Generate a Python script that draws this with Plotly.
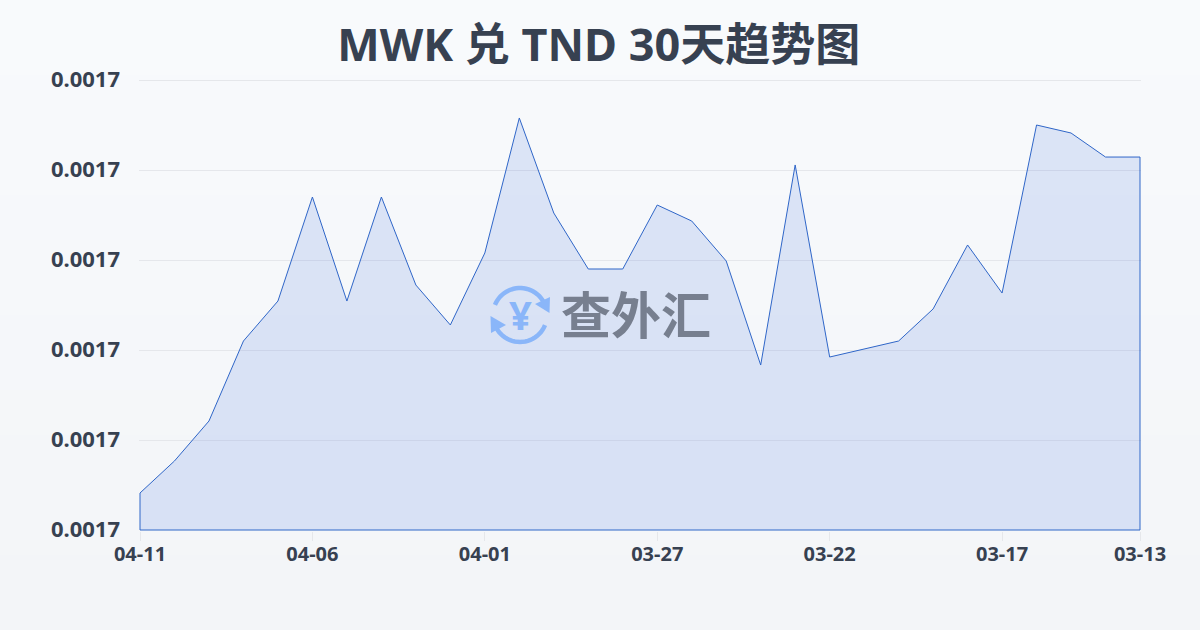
import math
import plotly.graph_objects as go

dates = ["04-11","04-10","04-09","04-08","04-07","04-06","04-05","04-04","04-03","04-02",
         "04-01","03-31","03-30","03-29","03-28","03-27","03-26","03-25","03-24","03-23",
         "03-22","03-21","03-20","03-19","03-18","03-17","03-16","03-15","03-14","03-13"]
rates = [0.00168411,0.00168767,0.00169211,0.00170100,0.00170544,0.00171700,0.00170544,0.00171700,0.00170722,0.00170278,
         0.00171078,0.00172578,0.00171522,0.00170900,0.00170900,0.00171611,0.00171433,0.00170989,0.00169833,0.00172056,
         0.00169922,0.00170011,0.00170100,0.00170456,0.00171167,0.00170633,0.00172500,0.00172411,0.00172144,0.00172144]
x_ticks = ["04-11","04-06","04-01","03-27","03-22","03-17","03-13"]
y_ticks = [0.00168,0.00169,0.00170,0.00171,0.00172,0.00173]
y_base = 0.00168
y_top = 0.00173
title = "MWK 兑 TND 30天趋势图"
logo_text = "查外汇"

W, H = 1200, 630
ML, MR, MT, MB = 139, 59, 70, 99
PW, PH = W - ML - MR, H - MT - MB
FONT = "Noto Sans, Noto Sans CJK SC, sans-serif"
INK = "#374151"
Y_PER_PX = (y_top - y_base) / 450
X_PAD = 1 / 34.483

def px(x): return (x - ML) / PW
def py(y): return (H - MB - y) / PH

# page background gradient, top to bottom
shapes = []
c0, c1 = (248, 250, 252), (243, 245, 248)
bands = 42
for i in range(bands):
    t = i / (bands - 1)
    col = "rgb(%d,%d,%d)" % tuple(round(a + (b - a) * t) for a, b in zip(c0, c1))
    shapes.append(dict(type="rect", xref="paper", yref="paper", layer="below",
                       x0=px(0), x1=px(W), y0=py(H * i / bands), y1=py(H * (i + 1) / bands),
                       fillcolor=col, line_width=0))

# logo icon arcs and arrow heads
def arc(cx, cy, r, a0, a1, n=24):
    pts = []
    for k in range(n + 1):
        a = math.radians(a0 + (a1 - a0) * k / n)
        pts.append((cx + r * math.cos(a), cy + r * math.sin(a)))
    return "M" + " L".join(f"{px(p[0]):.5f},{py(p[1]):.5f}" for p in pts)

def poly(pts):
    return "M" + " L".join(f"{px(p[0]):.5f},{py(p[1]):.5f}" for p in pts) + " Z"

BLUE = "#8ab6f9"
cx, cy, r = 520, 315, 27
for a0, a1 in ((-158, -28), (22, 158)):
    shapes.append(dict(type="path", xref="paper", yref="paper", layer="above",
                       path=arc(cx, cy, r, a0, a1),
                       line=dict(color=BLUE, width=4.5)))
shapes.append(dict(type="path", xref="paper", yref="paper", layer="above",
                   path=poly([(550, 297), (549.5, 313), (535, 304)]),
                   fillcolor=BLUE, line_width=0))
shapes.append(dict(type="path", xref="paper", yref="paper", layer="above",
                   path=poly([(490.5, 316), (491, 333), (506, 325)]),
                   fillcolor=BLUE, line_width=0))

fig = go.Figure()
fig.add_trace(go.Scatter(
    x=dates + [dates[-1], dates[0], dates[0]],
    y=rates + [y_base, y_base, rates[0]],
    mode="lines",
    line=dict(color="#2f66c8", width=1),
    fill="toself",
    fillcolor="rgba(59,110,220,0.15)",
    hoverinfo="skip",
    showlegend=False,
))

fig.update_layout(
    width=W, height=H,
    margin=dict(l=ML, r=MR, t=MT, b=MB),
    paper_bgcolor="#f8fafc",
    plot_bgcolor="rgba(0,0,0,0)",
    shapes=shapes,
    font=dict(family=FONT, color=INK),
    title=dict(text=f"<b>{title}</b>", x=0.499, xanchor="center", y=1 - 45 / H, yanchor="middle",
               font=dict(size=45, color=INK, family=FONT)),
    xaxis=dict(type="category", categoryorder="array", categoryarray=dates,
               range=[-X_PAD, 29 + X_PAD], tickmode="array", tickvals=x_ticks,
               ticktext=[f"<b>{t}</b>" for t in x_ticks],
               showgrid=False, zeroline=False, showline=False,
               ticks="outside", ticklen=9, tickwidth=1, tickcolor="#e5e7eb",
               ticklabelstandoff=-4,
               tickfont=dict(size=20, color=INK, family=FONT)),
    yaxis=dict(range=[y_base - Y_PER_PX, y_top + 10 * Y_PER_PX], tickmode="array", tickvals=y_ticks,
               ticktext=["<b>%.4f</b>" % v for v in y_ticks],
               showgrid=True, gridcolor="#e5e7eb", gridwidth=1, zeroline=False, showline=False,
               ticks="", ticklabelstandoff=18, ticklabelshift=-1,
               tickfont=dict(size=22, color=INK, family=FONT)),
    annotations=[
        dict(text=f"<b>{logo_text}</b>", xref="paper", yref="paper", x=px(636), y=py(312),
             xanchor="center", yanchor="middle", showarrow=False,
             font=dict(size=50, color="#777f8f", family="Noto Sans CJK SC")),
        dict(text="<b>¥</b>", xref="paper", yref="paper", x=px(520), y=py(314),
             xanchor="center", yanchor="middle", showarrow=False,
             font=dict(size=40, color=BLUE, family=FONT)),
    ],
)

fig.write_html("out.html", config=dict(displayModeBar=False),
               post_script="document.body.style.margin='0';")
